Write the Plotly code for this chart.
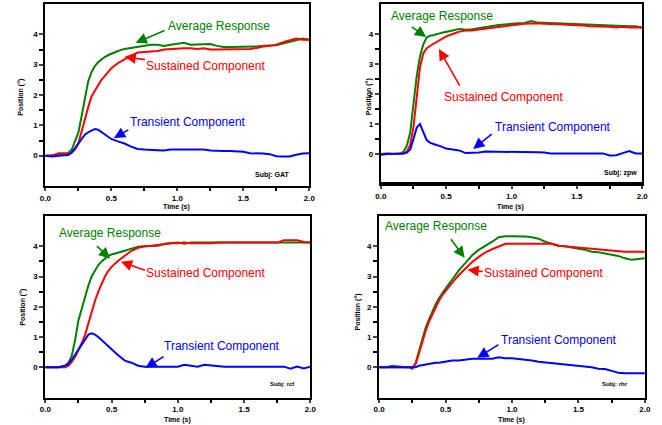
import plotly.graph_objects as go

# time grid (s)
T = [0, 0.05, 0.1, 0.15, 0.175, 0.2, 0.225, 0.25, 0.275, 0.3, 0.325, 0.35, 0.375, 0.4,
     0.425, 0.45, 0.475, 0.5, 0.55, 0.6, 0.65, 0.7, 0.75, 0.8, 0.85, 0.9, 0.95, 1.0,
     1.05, 1.1, 1.15, 1.2, 1.25, 1.3, 1.35, 1.4, 1.45, 1.5, 1.55, 1.6, 1.65, 1.7, 1.75,
     1.8, 1.85, 1.9, 1.95, 2.0]

# Subj: GAT
gat_avg = [0, 0, 0.02, 0.05, 0.1, 0.2, 0.45, 0.75, 1.3, 1.84, 2.45, 2.75, 2.95, 3.08,
           3.17, 3.25, 3.31, 3.36, 3.45, 3.52, 3.56, 3.58, 3.62, 3.66, 3.66, 3.62, 3.66, 3.7,
           3.72, 3.66, 3.66, 3.66, 3.68, 3.62, 3.58, 3.58, 3.58, 3.58, 3.6, 3.6, 3.62, 3.62, 3.64,
           3.7, 3.76, 3.82, 3.86, 3.82]
gat_sus = [0, 0, 0.08, 0.08, 0.05, 0.1, 0.2, 0.4, 0.8, 1.25, 1.6, 1.95, 2.15, 2.35,
           2.5, 2.62, 2.75, 2.88, 3.05, 3.18, 3.3, 3.4, 3.42, 3.45, 3.45, 3.5, 3.52, 3.54,
           3.54, 3.54, 3.52, 3.54, 3.5, 3.5, 3.5, 3.5, 3.5, 3.5, 3.52, 3.55, 3.6, 3.62, 3.66,
           3.74, 3.8, 3.86, 3.82, 3.82]
gat_tra = [0, -0.03, 0, 0, 0.02, 0.1, 0.25, 0.42, 0.58, 0.69, 0.77, 0.83, 0.88, 0.86,
           0.78, 0.68, 0.6, 0.55, 0.47, 0.4, 0.3, 0.22, 0.2, 0.2, 0.18, 0.17, 0.2, 0.2,
           0.2, 0.18, 0.2, 0.2, 0.17, 0.15, 0.15, 0.15, 0.15, 0.13, 0.08, 0.08, 0.07, 0.05, -0.02,
           -0.03, -0.03, 0.03, 0.07, 0.08]

# Subj: zpw
zpw_avg = [-0.03, 0, 0, 0.02, 0.08, 0.28, 0.72, 1.7, 2.6, 3.26, 3.65, 3.88, 3.94, 3.96,
           3.98, 4.02, 4.05, 4.08, 4.12, 4.17, 4.14, 4.16, 4.2, 4.24, 4.26, 4.3, 4.32, 4.35,
           4.36, 4.37, 4.43, 4.38, 4.37, 4.37, 4.36, 4.35, 4.34, 4.32, 4.31, 4.3, 4.29, 4.28, 4.28,
           4.27, 4.27, 4.26, 4.26, 4.22]
zpw_sus = [0, 0.02, 0, 0, 0.02, 0.08, 0.3, 0.9, 1.93, 2.9, 3.35, 3.52, 3.6, 3.66,
           3.72, 3.8, 3.86, 3.92, 4.0, 4.08, 4.12, 4.12, 4.15, 4.18, 4.2, 4.24, 4.28, 4.3,
           4.32, 4.34, 4.36, 4.36, 4.34, 4.34, 4.34, 4.32, 4.3, 4.3, 4.28, 4.26, 4.26, 4.25, 4.24,
           4.22, 4.24, 4.22, 4.22, 4.22]
zpw_tra = [0, 0, 0, 0, 0.02, 0.05, 0.15, 0.5, 0.88, 1.0, 0.75, 0.47, 0.38, 0.33,
           0.3, 0.27, 0.22, 0.18, 0.15, 0.12, 0.03, 0.03, 0.05, 0.08, 0.08, 0.08, 0.08, 0.06,
           0.06, 0.06, 0.06, 0.06, 0.05, 0.02, 0.02, 0.02, 0.02, 0.02, 0.02, 0.02, 0.02, 0.02, -0.05,
           -0.04, 0.03, 0.1, 0.02, 0.02]

# Subj: rcf
rcf_avg = [0, 0, 0, 0.05, 0.15, 0.38, 0.9, 1.55, 1.95, 2.34, 2.7, 3.0, 3.2, 3.38,
           3.5, 3.6, 3.68, 3.73, 3.78, 3.85, 3.92, 3.98, 4.0, 4.0, 4.02, 4.08, 4.1, 4.12,
           4.08, 4.12, 4.12, 4.12, 4.12, 4.12, 4.12, 4.12, 4.12, 4.12, 4.12, 4.12, 4.12, 4.12, 4.12,
           4.12, 4.12, 4.12, 4.12, 4.12]
rcf_sus = [0, 0, 0, 0, 0.05, 0.18, 0.35, 0.55, 0.8, 1.07, 1.45, 1.85, 2.2, 2.5,
           2.78, 3.0, 3.18, 3.32, 3.52, 3.7, 3.85, 3.95, 4.0, 4.02, 4.05, 4.08, 4.1, 4.1,
           4.12, 4.1, 4.1, 4.08, 4.1, 4.12, 4.12, 4.12, 4.12, 4.12, 4.12, 4.12, 4.12, 4.12, 4.12,
           4.2, 4.2, 4.2, 4.14, 4.12]
rcf_tra = [0, 0, 0, 0.05, 0.12, 0.25, 0.42, 0.6, 0.78, 0.95, 1.08, 1.12, 1.08, 1.0,
           0.9, 0.8, 0.7, 0.58, 0.4, 0.22, 0.15, 0.05, 0.02, 0.02, 0.02, 0.02, 0.02, 0.02,
           0.08, 0.06, 0.02, 0.08, 0.06, 0.02, 0.02, 0.02, 0.02, 0.02, 0.02, 0.02, 0.02, 0.02, 0.02,
           0.02, -0.05, 0.02, -0.04, 0.02]

# Subj: rhr
rhr_avg = [0, 0, 0.05, 0.02, 0, 0, 0, -0.05, 0.15, 0.53, 0.95, 1.3, 1.58, 1.84,
           2.08, 2.28, 2.45, 2.6, 2.9, 3.2, 3.45, 3.7, 3.88, 4.03, 4.15, 4.3, 4.33, 4.33,
           4.33, 4.32, 4.3, 4.25, 4.15, 4.08, 4.02, 4.0, 3.95, 3.92, 3.88, 3.82, 3.8, 3.75, 3.72,
           3.68, 3.6, 3.55, 3.58, 3.6]
rhr_sus = [0, 0, 0, 0, 0, 0, 0, 0, 0.1, 0.48, 0.88, 1.2, 1.5, 1.75,
           2.0, 2.2, 2.38, 2.53, 2.8, 3.05, 3.28, 3.48, 3.65, 3.8, 3.9, 4.0, 4.08, 4.08,
           4.08, 4.08, 4.08, 4.08, 4.08, 4.08, 4.02, 4.0, 3.98, 3.95, 3.92, 3.9, 3.88, 3.88, 3.86,
           3.82, 3.82, 3.82, 3.82, 3.82]
rhr_tra = [0, 0, 0, 0, 0, 0, 0, 0, 0, 0.05, 0.07, 0.1, 0.12, 0.12,
           0.15, 0.15, 0.17, 0.2, 0.22, 0.22, 0.25, 0.28, 0.28, 0.28, 0.28, 0.33, 0.3, 0.3,
           0.28, 0.25, 0.22, 0.18, 0.16, 0.14, 0.12, 0.1, 0.06, 0.05, 0.02, 0.0, -0.05, -0.06, -0.12,
           -0.18, -0.2, -0.2, -0.2, -0.2]

subjects = ["Subj: GAT", "Subj: zpw", "Subj: rcf", "Subj: rhr"]
panels = [(gat_avg, gat_sus, gat_tra), (zpw_avg, zpw_sus, zpw_tra),
          (rcf_avg, rcf_sus, rcf_tra), (rhr_avg, rhr_sus, rhr_tra)]
x_ticks = [0, 0.5, 1.0, 1.5, 2.0]
x_ticklabels = ["0.0", "0.5", "1.0", "1.5", "2.0"]
y_ticks = [0, 1, 2, 3, 4]

GREEN = "#008000"
RED = "#ff0000"
BLUE = "#0000ff"
FONT = "Arial, Liberation Sans, sans-serif"

W, H = 662, 425
# plot area pixel boxes (left, right, top, bottom)
boxes = [(40, 309, 4, 186), (381.7, 648, 4, 184), (40, 310, 216, 397.5), (380, 650.7, 216, 397.5)]

fig = go.Figure()

for i, (series, box) in enumerate(zip(panels, boxes)):
    n = "" if i == 0 else str(i + 1)
    for vals, col in zip(series, [GREEN, RED, BLUE]):
        fig.add_trace(go.Scatter(x=T, y=vals, mode="lines", line=dict(color=col, width=2),
                                 xaxis="x" + n, yaxis="y" + n, showlegend=False))
    l, r, t, b = box
    fig.layout["xaxis" + n] = dict(
        domain=[l / W, r / W], range=[0, 2], anchor="y" + n,
        tickvals=x_ticks, ticktext=x_ticklabels, ticks="outside", ticklen=3, tickwidth=2,
        minor=dict(tickvals=[0.25, 0.75, 1.25, 1.75], ticks="outside", ticklen=3, tickwidth=2, tickcolor="black"),
        showline=True, linewidth=2, linecolor="black", mirror=True, showgrid=False, zeroline=False,
        tickfont=dict(family=FONT, size=8, color="black", weight="bold"),
    )
    fig.layout["yaxis" + n] = dict(
        domain=[1 - b / H, 1 - t / H], range=[-1, 5], anchor="x" + n,
        tickvals=y_ticks, ticks="outside", ticklen=4, tickwidth=2,
        minor=dict(tickvals=[0.5, 1.5, 2.5, 3.5], ticks="outside", ticklen=4, tickwidth=2, tickcolor="black"),
        showline=True, linewidth=2, linecolor="black", mirror=True, showgrid=False, zeroline=False,
        tickfont=dict(family=FONT, size=8, color="black", weight="bold"),
    )

# thick bottom line of panel 2
fig.add_shape(type="line", xref="x2 domain", yref="y2 domain", x0=0, x1=1, y0=0, y1=0,
              line=dict(color="black", width=4))

# text/arrow positions per panel (data coords): (text x, text y, tail x, tail y, tip x, tip y)
labels = ["Average Response", "Sustained Component", "Transient Component"]
colors = [GREEN, RED, BLUE]
ann_pos = [
    [(1.316, 4.28, 0.915, 4.15, 0.684, 3.72), (1.21, 2.96, 0.766, 3.16, 0.6, 3.26), (1.08, 1.11, 0.64, 0.88, 0.52, 0.58)],
    [(0.471, 4.6, 0.227, 4.27, 0.347, 3.9), (0.94, 1.9, 0.61, 2.23, 0.445, 3.5), (1.32, 0.9, 0.86, 0.7, 0.707, 0.17)],
    [(0.485, 4.45, 0.378, 4.05, 0.489, 3.59), (1.207, 3.12, 0.763, 3.19, 0.57, 3.49), (1.33, 0.71, 0.904, 0.38, 0.756, -0.02)],
    [(0.429, 4.68, 0.532, 4.28, 0.643, 3.62), (1.238, 3.12, 0.791, 3.16, 0.665, 3.22), (1.353, 0.91, 0.909, 0.78, 0.739, 0.31)],
]
subj_pos = [(1.86, -0.64), (1.975, -0.63), (1.896, -0.55), (1.885, -0.55)]
# axis-title pixel centres
ytitle_px = [(15, 97), (370, 97), (17, 307), (358, 312)]
xtitle_px = [(174, 207), (514, 207), (175, 420), (515, 420)]

for i in range(4):
    n = "" if i == 0 else str(i + 1)
    xr, yr = "x" + n, "y" + n
    for lab, col, p in zip(labels, colors, ann_pos[i]):
        tx, ty, ax, ay, hx, hy = p
        fig.add_annotation(x=tx, y=ty, xref=xr, yref=yr, text=lab, showarrow=False,
                           font=dict(family=FONT, size=12, color=col))
        fig.add_annotation(x=hx, y=hy, xref=xr, yref=yr, ax=ax, ay=ay, axref=xr, ayref=yr,
                           text="", showarrow=True, arrowhead=2, arrowsize=1.4, arrowwidth=1.6,
                           arrowcolor=col)
    sx, sy = subj_pos[i]
    fig.add_annotation(x=sx, y=sy, xref=xr, yref=yr, text=subjects[i], showarrow=False,
                       xanchor="right", font=dict(family=FONT, size=7 if i < 2 else 6, color="black", weight="bold"))
    px, py = xtitle_px[i]
    fig.add_annotation(x=px / W, y=1 - py / H, xref="paper", yref="paper", text="Time (s)",
                       xanchor="center", yanchor="middle", showarrow=False,
                       font=dict(family=FONT, size=7, color="black", weight="bold"))
    px, py = ytitle_px[i]
    fig.add_annotation(x=px / W, y=1 - py / H, xref="paper", yref="paper",
                       xanchor="center", yanchor="middle",
                       text="Position (°)", textangle=-90, showarrow=False,
                       font=dict(family=FONT, size=7, color="black", weight="bold"))

fig.update_layout(width=W, height=H, margin=dict(l=0, r=0, t=0, b=0),
                  paper_bgcolor="white", plot_bgcolor="white", showlegend=False)

fig.write_html("out.html")
